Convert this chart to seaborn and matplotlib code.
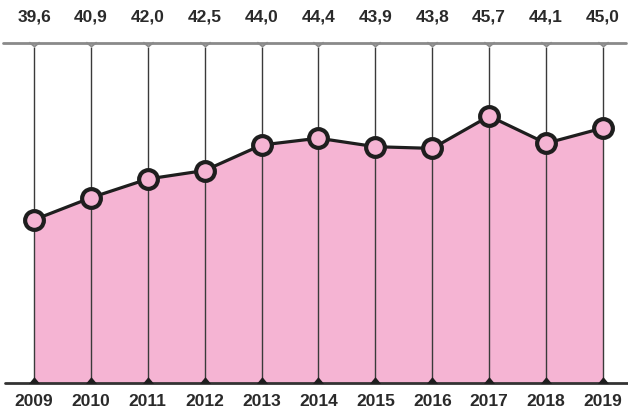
import matplotlib
matplotlib.use("Agg")
import matplotlib.pyplot as plt
from matplotlib.path import Path
import seaborn as sns
import pandas as pd

years = [2009, 2010, 2011, 2012, 2013, 2014, 2015, 2016, 2017, 2018, 2019]
values = [39.6, 40.9, 42.0, 42.5, 44.0, 44.4, 43.9, 43.8, 45.7, 44.1, 45.0]
value_labels = ["39,6", "40,9", "42,0", "42,5", "44,0", "44,4", "43,9", "43,8", "45,7", "44,1", "45,0"]

df = pd.DataFrame({"year": years, "value": values})

sns.set_style("white")
plt.rcParams["font.family"] = ["Liberation Sans", "DejaVu Sans"]

PINK = "#f5b4d3"
INK = "#1e1e1e"

fig = plt.figure(figsize=(6.28, 4.08), dpi=100)
ax = fig.add_axes([0, 25 / 408, 1, 340 / 408])
ax.set_xlim(2008.402, 2019.44)
ax.set_ylim(30, 50)
ax.axis("off")

# shaded area under the series
ax.fill_between(df["year"], df["value"], 30, color=PINK, lw=0, zorder=1)

# vertical guide for each year
ax.vlines(df["year"], 30, 49.75, color="#3a3a3a", lw=1.0, zorder=2)

# top rule with small forks above each guide
ax.axhline(50, xmin=0.005, xmax=0.997, color="#8a8a8a", lw=2, zorder=2, clip_on=False)
fork = Path([(-1, 0.8), (0, 0), (1, 0.8)], [Path.MOVETO, Path.LINETO, Path.LINETO])
ax.plot(df["year"], [49.8] * len(years), ls="none", marker=fork, ms=7.5,
        mfc="none", mec="#8a8a8a", mew=1.3, zorder=2, clip_on=False)

# baseline with small flat triangles
ax.axhline(30, xmin=0.008, xmax=1, color="#333333", lw=2, zorder=3, clip_on=False)
tri = Path([(-1, -0.6), (1, -0.6), (0, 0.6), (-1, -0.6)],
           [Path.MOVETO, Path.LINETO, Path.LINETO, Path.CLOSEPOLY])
ax.plot(df["year"], [30.2] * len(years), ls="none", marker=tri, ms=8,
        color=INK, mew=0, zorder=3, clip_on=False)

# the series line with markers
sns.lineplot(data=df, x="year", y="value", ax=ax, color=INK, lw=2.3,
             marker="o", ms=13.5, mfc=PINK, mec=INK, mew=3, zorder=5, clip_on=False)

for x, lab in zip(years, value_labels):
    ax.annotate(lab, (x, 50), xytext=(0, 18.5), textcoords="offset points",
                ha="center", va="center", fontsize=12.5, fontweight="bold", color="#2a2a2a")
    ax.annotate(str(x), (x, 30), xytext=(0, -13), textcoords="offset points",
                ha="center", va="center", fontsize=12.5, fontweight="bold", color="#2a2a2a")

fig.savefig("out.png", dpi=100)
